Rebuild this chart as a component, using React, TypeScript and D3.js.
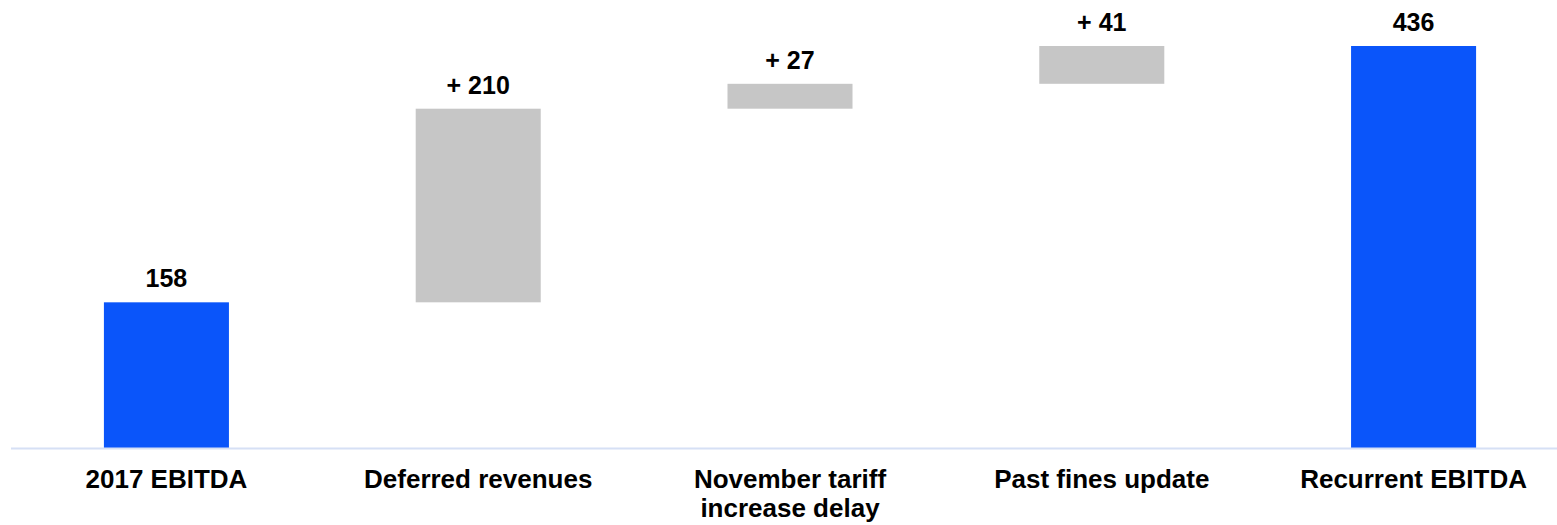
import React from 'react';
import * as d3 from 'd3';

// waterfall steps
const categories = ['2017 EBITDA', 'Deferred revenues', 'November tariff\nincrease delay', 'Past fines update', 'Recurrent EBITDA'];
const values = [158, 210, 27, 41, 436];
const kinds = ['total', 'delta', 'delta', 'delta', 'total'];
const valueLabels = ['158', '+ 210', '+ 27', '+ 41', '436'];

const WIDTH = 1557;
const HEIGHT = 525;
const FONT = '"Liberation Sans", Arial, Helvetica, sans-serif';

interface Step {
  name: string;
  start: number;
  end: number;
  kind: string;
  label: string;
}

const App: React.FC = () => {
  // running totals for the floating bars
  let running = 0;
  const steps: Step[] = categories.map((name, i) => {
    if (kinds[i] === 'total') {
      running = values[i];
      return { name, start: 0, end: values[i], kind: kinds[i], label: valueLabels[i] };
    }
    const start = running;
    running += values[i];
    return { name, start, end: running, kind: kinds[i], label: valueLabels[i] };
  });

  const x = d3.scaleBand<string>()
    .domain(categories)
    .range([11, 1569])
    .paddingInner(0.599)
    .paddingOuter(0.298);

  const y = d3.scaleLinear()
    .domain([0, d3.max(steps, d => d.end) as number])
    .range([448, 46]);

  return (
    <svg
      width={WIDTH}
      height={HEIGHT}
      style={{ position: 'absolute', left: 0, top: 0, background: 'white' }}
    >
      {steps.map(s => {
        const bx = x(s.name) as number;
        const top = y(Math.max(s.start, s.end));
        const bottom = y(Math.min(s.start, s.end));
        return (
          <g key={s.name}>
            <rect
              x={bx}
              y={top}
              width={x.bandwidth()}
              height={bottom - top}
              fill={s.kind === 'total' ? '#0a55fa' : '#c6c6c6'}
            />
            <text
              x={bx + x.bandwidth() / 2}
              y={top - 15}
              textAnchor="middle"
              fontFamily={FONT}
              fontWeight="bold"
              fontSize={25}
              fill="#000"
            >
              {s.label}
            </text>
          </g>
        );
      })}

      <line x1={11} x2={WIDTH} y1={y(0) + 0.5} y2={y(0) + 0.5} stroke="#d6e0f5" strokeWidth={2} />

      {categories.map(c => (
        <text
          key={c}
          x={(x(c) as number) + x.bandwidth() / 2}
          y={488}
          textAnchor="middle"
          fontFamily={FONT}
          fontWeight="bold"
          fontSize={26}
          fill="#000"
        >
          {c.split('\n').map((line, i) => (
            <tspan key={i} x={(x(c) as number) + x.bandwidth() / 2} dy={i === 0 ? 0 : 29}>
              {line}
            </tspan>
          ))}
        </text>
      ))}
    </svg>
  );
};

export default App;
